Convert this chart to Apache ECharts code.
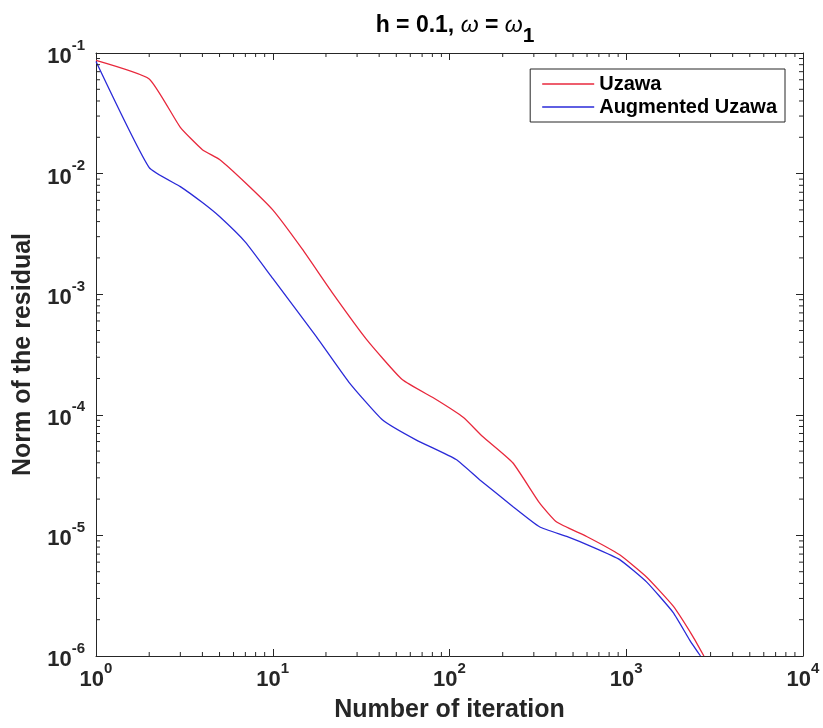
<!DOCTYPE html>
<html>
<head>
<meta charset="utf-8">
<script src="https://cdn.jsdelivr.net/npm/echarts@6/dist/echarts.min.js"></script>
<style>html,body{margin:0;padding:0;background:#fff}#c{width:823px;height:728px}</style>
</head>
<body>
<div id="c"></div>
<script>
// Iteration number and residual norm
var uzawaIter = [1, 2, 3, 4, 5, 7, 10, 14.7, 21.7, 34, 54, 84, 120, 154, 228, 323, 404, 597, 918, 1306, 1840, 2384, 2750];
var uzawaRes  = [0.087, 0.061, 0.0242, 0.0158, 0.0131, 0.0084, 0.005, 0.00236, 0.00103, 4.2e-4, 1.96e-4, 1.34e-4, 9.5e-5, 6.6e-5, 4.0e-5, 1.86e-5, 1.29e-5, 9.8e-6, 6.9e-6, 4.5e-6, 2.6e-6, 1.45e-6, 1.0e-6];
var augIter = [1, 2, 3, 4, 5, 7, 10, 17.6, 27, 41.7, 64.6, 109, 148, 228, 323, 460, 646, 918, 1306, 1840, 2290, 2630];
var augRes  = [0.085, 0.0112, 0.0078, 0.00575, 0.0044, 0.0027, 0.00135, 4.47e-4, 1.86e-4, 9.1e-5, 6.2e-5, 4.26e-5, 2.9e-5, 1.74e-5, 1.18e-5, 9.8e-6, 8.0e-6, 6.3e-6, 4.1e-6, 2.3e-6, 1.35e-6, 1.0e-6];
var seriesNames = ['Uzawa', 'Augmented Uzawa'];
var xRange = [1, 10000];
var yRange = [1e-6, 1e-1];

function pairs(xs, ys) { return xs.map(function (x, i) { return [x, ys[i]]; }); }

// minor tick positions (2..9 per decade)
var xMinor = [], yMinor = [];
for (var n = 0; n < 4; n++) for (var k = 2; k <= 9; k++) xMinor.push([k * Math.pow(10, n), yRange[0]]);
for (var m = -6; m < -1; m++) for (var j = 2; j <= 9; j++) yMinor.push([xRange[0], j * Math.pow(10, m)]);

var FONT = 'Liberation Sans';
var AX = '#262626';

function expLabel(v) {
  var e = Math.round(Math.log10(v));
  return '{b|10}{s|' + e + '}';
}
var labelRich = {
  b: { fontSize: 22, fontWeight: 'bold', fontFamily: FONT, color: AX, lineHeight: 30, verticalAlign: 'bottom' },
  s: { fontSize: 15, fontWeight: 'bold', fontFamily: FONT, color: AX, lineHeight: 30, verticalAlign: 'top' }
};

function minorTickSeries(data, horizontal) {
  return {
    type: 'custom', silent: true, clip: false, z: 5,
    data: data,
    renderItem: function (params, api) {
      var L = 4, children = [];
      if (horizontal) {
        var b = api.coord([api.value(0), yRange[0]]);
        var t = api.coord([api.value(0), yRange[1]]);
        children.push({ type: 'line', shape: { x1: b[0], y1: b[1], x2: b[0], y2: b[1] - L }, style: { stroke: AX, lineWidth: 1 } });
        children.push({ type: 'line', shape: { x1: t[0], y1: t[1], x2: t[0], y2: t[1] + L }, style: { stroke: AX, lineWidth: 1 } });
      } else {
        var l = api.coord([xRange[0], api.value(1)]);
        var r = api.coord([xRange[1], api.value(1)]);
        children.push({ type: 'line', shape: { x1: l[0], y1: l[1], x2: l[0] + L, y2: l[1] }, style: { stroke: AX, lineWidth: 1 } });
        children.push({ type: 'line', shape: { x1: r[0], y1: r[1], x2: r[0] - L, y2: r[1] }, style: { stroke: AX, lineWidth: 1 } });
      }
      return { type: 'group', children: children };
    }
  };
}

var chart = echarts.init(document.getElementById('c'), null, { renderer: 'canvas' });
chart.setOption({
  backgroundColor: '#ffffff',
  animation: false,
  textStyle: { fontFamily: FONT },
  title: {
    text: '{t|h = 0.1, }{w|ω}{t| = }{w|ω}{sub|1}',
    left: 450, top: 5, textAlign: 'center',
    textStyle: {
      rich: {
        t: { fontSize: 23, fontWeight: 'bold', fontFamily: FONT, color: '#000', lineHeight: 37, verticalAlign: 'top', padding: [4, 0, 0, 0] },
        w: { fontSize: 23, fontWeight: 'normal', fontStyle: 'italic', fontFamily: FONT, color: '#000', lineHeight: 37, verticalAlign: 'top', padding: [4, 0, 0, 0] },
        sub: { fontSize: 21, fontWeight: 'bold', fontFamily: FONT, color: '#000', lineHeight: 37, verticalAlign: 'bottom' }
      }
    }
  },
  legend: {
    data: seriesNames,
    orient: 'vertical',
    right: 38, top: 69,
    backgroundColor: '#fff',
    borderColor: AX, borderWidth: 1,
    padding: [5, 8, 5, 12],
    itemGap: 3,
    icon: 'rect',
    itemWidth: 52, itemHeight: 1.4,
    textStyle: { fontSize: 20, fontWeight: 'bold', fontFamily: FONT, color: '#000', lineHeight: 20 }
  },
  grid: { left: 96, right: 20, top: 53, bottom: 72, containLabel: false },
  xAxis: [{
    type: 'log', min: xRange[0], max: xRange[1], logBase: 10,
    name: 'Number of iteration', nameLocation: 'middle', nameGap: 42,
    nameTextStyle: { fontSize: 25, fontWeight: 'bold', fontFamily: FONT, color: AX },
    axisLine: { show: true, onZero: false, lineStyle: { color: AX, width: 1 } },
    axisTick: { show: true, inside: true, length: 7, lineStyle: { color: AX } },
    axisLabel: { formatter: expLabel, rich: labelRich, margin: 5 },
    splitLine: { show: false }, minorTick: { show: false }
  }, {
    type: 'log', min: xRange[0], max: xRange[1], logBase: 10, position: 'top',
    axisLine: { show: true, onZero: false, lineStyle: { color: AX, width: 1 } },
    axisTick: { show: true, inside: true, length: 7, lineStyle: { color: AX } },
    axisLabel: { show: false }, splitLine: { show: false }
  }],
  yAxis: [{
    type: 'log', min: yRange[0], max: yRange[1], logBase: 10,
    name: 'Norm of the residual', nameLocation: 'middle', nameGap: 60,
    nameTextStyle: { fontSize: 25, fontWeight: 'bold', fontFamily: FONT, color: AX },
    axisLine: { show: true, onZero: false, lineStyle: { color: AX, width: 1 } },
    axisTick: { show: true, inside: true, length: 7, lineStyle: { color: AX } },
    axisLabel: { formatter: expLabel, rich: labelRich, margin: 11 },
    splitLine: { show: false }
  }, {
    type: 'log', min: yRange[0], max: yRange[1], logBase: 10, position: 'right',
    axisLine: { show: true, onZero: false, lineStyle: { color: AX, width: 1 } },
    axisTick: { show: true, inside: true, length: 7, lineStyle: { color: AX } },
    axisLabel: { show: false }, splitLine: { show: false }
  }],
  series: [
    {
      name: seriesNames[0], type: 'line', data: pairs(uzawaIter, uzawaRes),
      symbol: 'none', smooth: 0.15, clip: true,
      lineStyle: { color: '#e8283c', width: 1.3 }, itemStyle: { color: '#e8283c' }, z: 3
    },
    {
      name: seriesNames[1], type: 'line', data: pairs(augIter, augRes),
      symbol: 'none', smooth: 0.15, clip: true,
      lineStyle: { color: '#2a2ad8', width: 1.3 }, itemStyle: { color: '#2a2ad8' }, z: 3
    },
    minorTickSeries(xMinor, true),
    minorTickSeries(yMinor, false)
  ]
});
</script>
</body>
</html>
